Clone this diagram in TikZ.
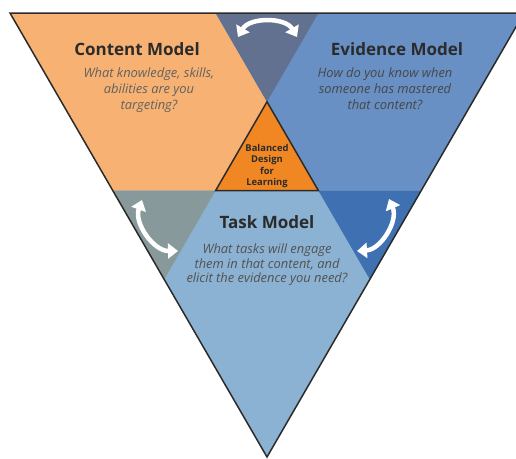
\documentclass[tikz,border=0pt]{standalone}
\usepackage{fontspec}
\setmainfont{Open Sans}
\usetikzlibrary{arrows.meta}
\usetikzlibrary{calc}
\usetikzlibrary{positioning}

\definecolor{contentfill}{HTML}{F7B273}
\definecolor{evidencefill}{HTML}{6890C5}
\definecolor{taskfill}{HTML}{8BB2D2}
\definecolor{cefill}{HTML}{637191}
\definecolor{ctfill}{HTML}{88999B}
\definecolor{etfill}{HTML}{3E70B2}
\definecolor{corefill}{HTML}{F18722}
\definecolor{inkgrey}{HTML}{2B2B2B}

\begin{document}
\begin{tikzpicture}[x=1pt,y=-1pt,
    title/.style={font=\fontsize{17}{20}\selectfont\bfseries, text=inkgrey},
    question/.style={font=\fontsize{12.9}{16}\selectfont\itshape, align=center},
    core/.style={font=\fontsize{9.4}{11.4}\selectfont\bfseries, align=center, text=inkgrey},
    swap/.style={draw=white, line width=4.5pt,
        {Triangle[width=15pt,length=10pt]}-{Triangle[width=15pt,length=10pt]}}]
        \path[use as bounding box] (0,0) rectangle (516,458);
        \clip (0,0) rectangle (516,458);

        \coordinate (tl) at (10,13);
        \coordinate (tr) at (524,13);
        \coordinate (ap) at (267,457);
        \coordinate (c1) at ($(tl)!0.4!(tr)$);
        \coordinate (c2) at ($(tl)!0.6!(tr)$);
        \coordinate (l1) at ($(tl)!0.4!(ap)$);
        \coordinate (l2) at ($(tl)!0.6!(ap)$);
        \coordinate (r1) at ($(tr)!0.4!(ap)$);
        \coordinate (r2) at ($(tr)!0.6!(ap)$);
        \coordinate (bt) at ($(c1)!1/3!(r2)$);
        \coordinate (bl) at ($(c2)!2/3!(l2)$);
        \coordinate (br) at ($(c1)!2/3!(r2)$);

        % three models and where they meet
        \fill[contentfill] (tl) -- (c2) -- (l2) -- cycle;
        \fill[evidencefill] (c1) -- (tr) -- (r2) -- cycle;
        \fill[taskfill] (l1) -- (r1) -- (ap) -- cycle;
        \fill[cefill] (c1) -- (c2) -- (bt) -- cycle;
        \fill[ctfill] (l1) -- (bl) -- (l2) -- cycle;
        \fill[etfill] (br) -- (r1) -- (r2) -- cycle;
        \filldraw[fill=corefill, draw=inkgrey, line width=1.5pt, line join=miter] (bt) -- (bl) -- (br) -- cycle;
        \draw[inkgrey, line width=1.5pt] (tl) -- (tr) -- (ap) -- cycle;

        \node[title] (content) at (137,49) {Content Model};
        \node[question, text=black!62, below=5pt of content, xshift=12pt] (contentq) {What knowledge, skills,\\abilities are you\\targeting?};
        \node[title] (evidence) at (397,49) {Evidence Model};
        \node[question, text=black!72, below=5pt of evidence, xshift=-12pt] (evidenceq) {How do you know when\\someone has mastered\\that content?};
        \node[title] (task) at (267,222) {Task Model};
        \node[question, text=black!68, font=\fontsize{12.9}{14.6}\selectfont\itshape, below=8pt of task] (taskq) {What tasks will engage\\them in that content, and\\elicit the evidence you need?};
        \node[core] (bdl) at (267,166) {Balanced\\Design\\for\\Learning};

        \coordinate (cea) at (238,37);
        \coordinate (ceb) at (297,37);
        \coordinate (cta) at (142,200);
        \coordinate (ctb) at (178,251);
        \coordinate (eta) at (389,199);
        \coordinate (etb) at (357,251);
        \draw[swap] (cea) to[bend left=60] (ceb);
        \draw[swap] (cta) to[bend right=55] (ctb);
        \draw[swap] (eta) to[bend left=55] (etb);
    \end{tikzpicture}
\end{document}
